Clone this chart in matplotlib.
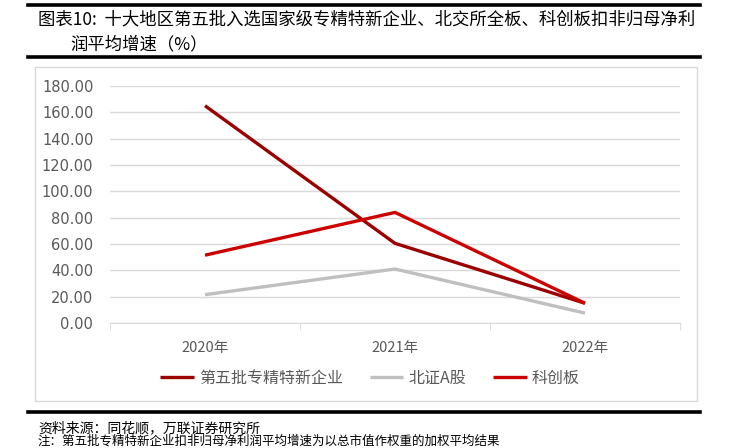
import matplotlib
matplotlib.use("Agg")
import matplotlib.pyplot as plt
from matplotlib.patches import Rectangle
from matplotlib.lines import Line2D

plt.rcParams["font.family"] = ["Noto Sans CJK SC", "DejaVu Sans"]

# ---- data ----
years = ["2020年", "2021年", "2022年"]
s_zjtx = [165.0, 60.5, 15.0]     # 第五批专精特新企业
s_bz = [21.5, 41.0, 7.5]         # 北证A股
s_kcb = [51.5, 84.0, 15.0]       # 科创板
series_names = ["第五批专精特新企业", "北证A股", "科创板"]
y_ticks = [0, 20, 40, 60, 80, 100, 120, 140, 160, 180]

title_l1 = "图表10:  十大地区第五批入选国家级专精特新企业、北交所全板、科创板扣非归母净利"
title_l2 = "润平均增速（%）"
source = "资料来源：同花顺，万联证券研究所"
note = "注：第五批专精特新企业扣非归母净利润平均增速为以总市值作权重的加权平均结果"

colors = ["#9B0000", "#BFBFBF", "#CC0000"]

W, H = 730, 448
fig = plt.figure(figsize=(W / 100, H / 100), dpi=100)


def fx(px):
    return px / W


def fy(py):
    return 1 - py / H


# thick black rules
for yy in [5, 57, 412]:
    fig.add_artist(Line2D([fx(28), fx(700)], [fy(yy), fy(yy)], color="black", lw=2.6))

# chart border
fig.add_artist(Rectangle((fx(35), fy(401)), fx(697) - fx(35), fy(67) - fy(401),
                         fill=False, edgecolor="#D9D9D9", lw=1.0))

fig.text(fx(38), fy(19), title_l1, fontsize=12.5, va="center", ha="left", color="black")
fig.text(fx(70), fy(44), title_l2, fontsize=12.5, va="center", ha="left", color="black")
fig.text(fx(38), fy(428), source, fontsize=10, va="center", ha="left", color="black")
fig.text(fx(38), fy(441), note, fontsize=9, va="center", ha="left", color="black")

ax = fig.add_axes([fx(110), fy(323), fx(680) - fx(110), fy(86) - fy(323)])
x = range(len(years))
ax.plot(x, s_zjtx, color=colors[0], lw=2.4, label=series_names[0], solid_capstyle="butt")
ax.plot(x, s_bz, color=colors[1], lw=2.4, label=series_names[1], solid_capstyle="butt")
ax.plot(x, s_kcb, color=colors[2], lw=2.4, label=series_names[2], solid_capstyle="butt")

ax.set_ylim(0, 180)
ax.set_xlim(-0.5, 2.5)
ax.set_yticks(y_ticks)
ax.set_yticklabels([f"{v:.2f}" for v in y_ticks], fontsize=10.5, color="#595959",
                   family="DejaVu Sans")
ax.set_xticks(list(x))
ax.set_xticklabels(years, fontsize=10.5, color="#595959")
ax.set_xticks([-0.5, 0.5, 1.5, 2.5], minor=True)
ax.tick_params(axis="x", which="major", length=0, pad=13)
ax.tick_params(axis="x", which="minor", length=5, color="#D9D9D9", direction="out")
ax.tick_params(axis="y", length=0, pad=12)
ax.grid(axis="y", color="#D9D9D9", lw=1.0)
ax.set_axisbelow(True)
for sp in ["top", "right", "left"]:
    ax.spines[sp].set_visible(False)
ax.spines["bottom"].set_color("#D9D9D9")

leg = fig.legend(loc="center", bbox_to_anchor=(fx(370), fy(378)), ncol=3, frameon=False,
                 fontsize=11.5, handlelength=2.1, handletextpad=0.3, columnspacing=1.7)
for t in leg.get_texts():
    t.set_color("#595959")

fig.savefig("out.png", dpi=100)
